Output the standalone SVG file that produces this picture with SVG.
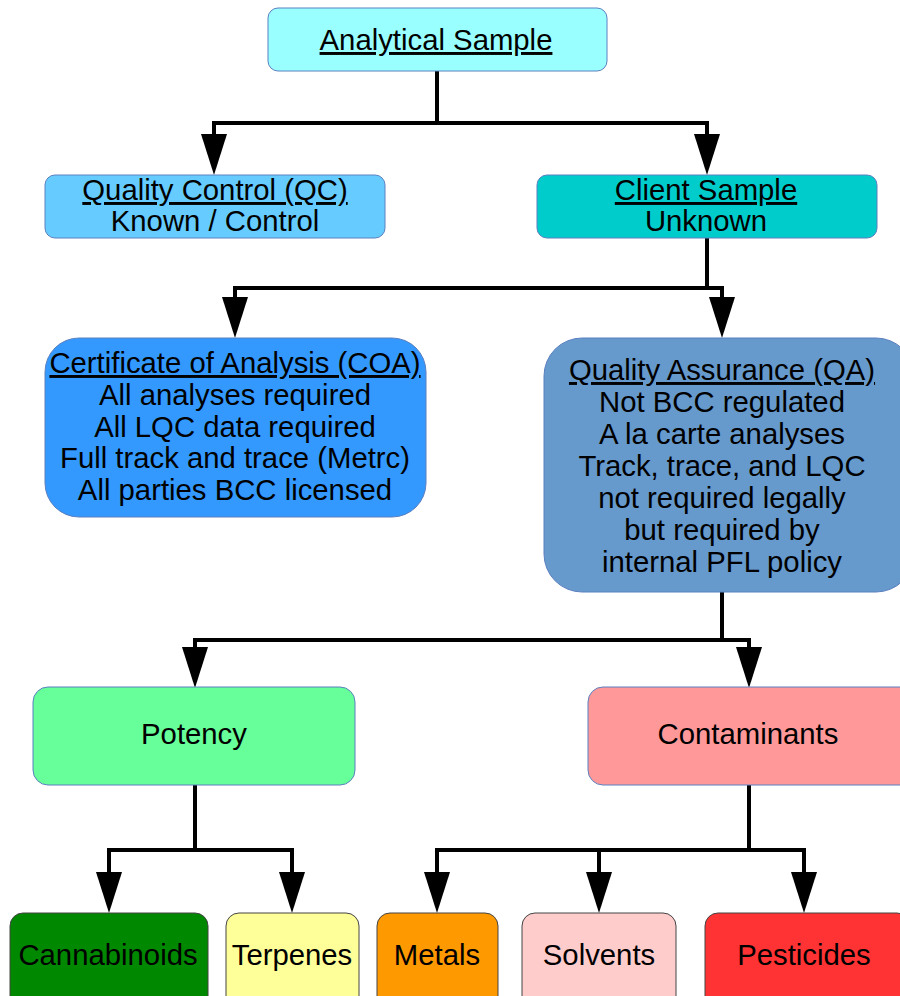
<svg xmlns="http://www.w3.org/2000/svg" width="900" height="996" viewBox="0 0 900 996">
<defs>
<marker id="ah" viewBox="0 0 41 26" refX="0" refY="13" markerWidth="41" markerHeight="26" markerUnits="userSpaceOnUse" orient="auto">
<path d="M0,0 L41,13 L0,26 z" fill="#000"/>
</marker>
<style>
.top{stroke:#5b80c0;stroke-width:1}
.bot{stroke:#444;stroke-width:1}
text{font-family:"Liberation Sans",Arial,sans-serif;font-size:29.3px;fill:#000;text-anchor:middle}
.u{text-decoration:underline}
.c{fill:none;stroke:#000;stroke-width:4}
</style>
</defs>
<g id="connectors">
<path class="c" d="M437,71 V123 M212,123 H709"/>
<path class="c" d="M214,123 V134" marker-end="url(#ah)"/>
<path class="c" d="M707,123 V134" marker-end="url(#ah)"/>
<path class="c" d="M707,238 V288 M233,288 H724"/>
<path class="c" d="M235,288 V297" marker-end="url(#ah)"/>
<path class="c" d="M722,288 V297" marker-end="url(#ah)"/>
<path class="c" d="M722,592 V640 M193,640 H751"/>
<path class="c" d="M195,640 V647" marker-end="url(#ah)"/>
<path class="c" d="M749,640 V647" marker-end="url(#ah)"/>
<path class="c" d="M195,785 V850 M107,850 H294"/>
<path class="c" d="M109,850 V872" marker-end="url(#ah)"/>
<path class="c" d="M292,850 V872" marker-end="url(#ah)"/>
<path class="c" d="M749,785 V850 M435,850 H806"/>
<path class="c" d="M437,850 V872" marker-end="url(#ah)"/>
<path class="c" d="M599,850 V872" marker-end="url(#ah)"/>
<path class="c" d="M804,850 V872" marker-end="url(#ah)"/>
</g>
<g id="analytical">
<rect class="top" x="268" y="8" width="339" height="63" rx="10" fill="#99FFFF"/>
<text class="u" x="436" y="50">Analytical Sample</text>
</g>
<g id="qc">
<rect class="top" x="45" y="175" width="340" height="63" rx="10" fill="#66CCFF"/>
<text class="u" x="215" y="200">Quality Control (QC)</text>
<text x="215" y="231">Known / Control</text>
</g>
<g id="client">
<rect class="top" x="537" y="175" width="340" height="63" rx="10" fill="#00CCCC"/>
<text class="u" x="706" y="200">Client Sample</text>
<text x="706" y="231">Unknown</text>
</g>
<g id="coa">
<rect class="top" x="45" y="338" width="381" height="179" rx="34" fill="#3399FF"/>
<text class="u" x="235" y="373">Certificate of Analysis (COA)</text>
<text x="235" y="405">All analyses required</text>
<text x="235" y="437">All LQC data required</text>
<text x="235" y="468">Full track and trace (Metrc)</text>
<text x="235" y="500">All parties BCC licensed</text>
</g>
<g id="qa">
<rect class="top" x="544" y="338" width="370" height="254" rx="38" fill="#6699CC"/>
<text class="u" x="722" y="380">Quality Assurance (QA)</text>
<text x="722" y="412">Not BCC regulated</text>
<text x="722" y="444">A la carte analyses</text>
<text x="722" y="476">Track, trace, and LQC</text>
<text x="722" y="508">not required legally</text>
<text x="722" y="540">but required by</text>
<text x="722" y="572">internal PFL policy</text>
</g>
<g id="potency">
<rect class="top" x="33" y="687" width="322" height="98" rx="15" fill="#66FF99"/>
<text x="194" y="744">Potency</text>
</g>
<g id="contaminants">
<rect class="top" x="588" y="687" width="330" height="98" rx="15" fill="#FF9999"/>
<text x="748" y="744">Contaminants</text>
</g>
<g id="cannabinoids">
<rect class="bot" x="10" y="913" width="198" height="100" rx="13" fill="#008800"/>
<text x="108" y="965">Cannabinoids</text>
</g>
<g id="terpenes">
<rect class="bot" x="226" y="913" width="133" height="100" rx="13" fill="#FFFF99"/>
<text x="292" y="965">Terpenes</text>
</g>
<g id="metals">
<rect class="bot" x="377" y="913" width="121" height="100" rx="13" fill="#FF9900"/>
<text x="437" y="965">Metals</text>
</g>
<g id="solvents">
<rect class="bot" x="522" y="913" width="154" height="100" rx="13" fill="#FFCCCC"/>
<text x="599" y="965">Solvents</text>
</g>
<g id="pesticides">
<rect class="bot" x="705" y="913" width="205" height="100" rx="13" fill="#FF3333"/>
<text x="804" y="965">Pesticides</text>
</g>
</svg>
